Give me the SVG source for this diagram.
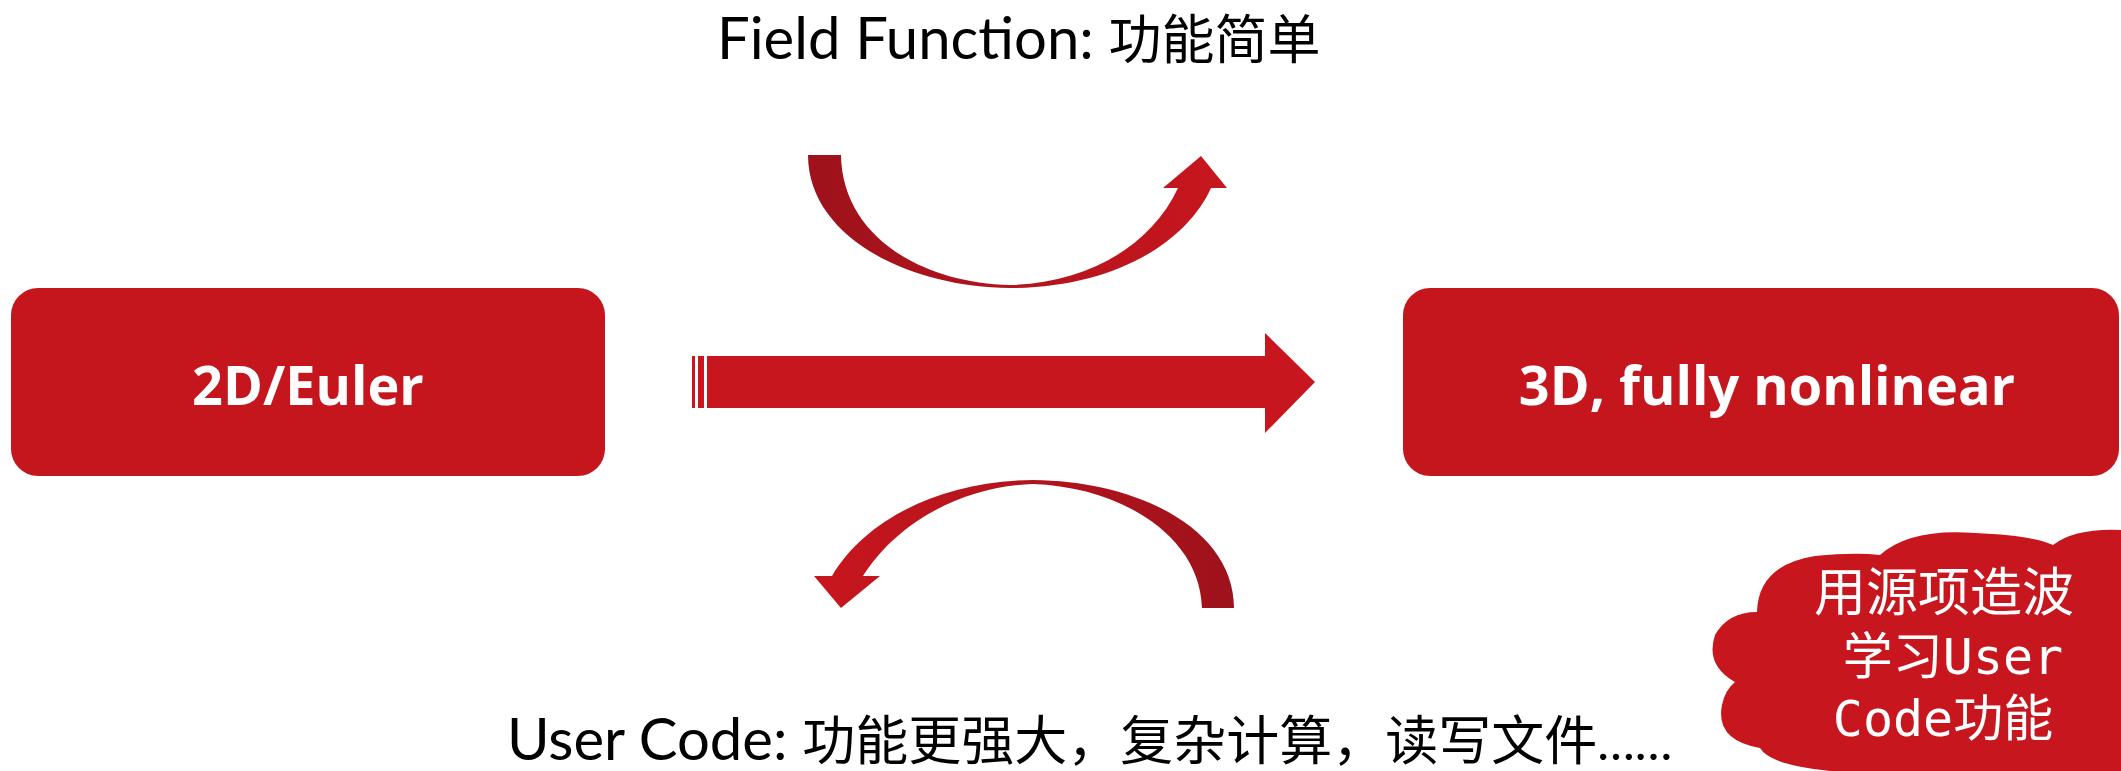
<svg xmlns="http://www.w3.org/2000/svg" width="2121" height="771" viewBox="0 0 2121 771">
<defs>
<style>
.box{fill:#c5161e}
.btxt{font-family:"Open Sans","Noto Sans",sans-serif;font-weight:bold;font-size:54px;fill:#fff;text-anchor:middle}
.lbl{font-family:Lato,"Noto Sans CJK SC",sans-serif;font-size:58px;fill:#000}
.cjk{font-family:"Noto Sans CJK SC",sans-serif;font-size:53px}
.ell{font-family:Lato,"Liberation Sans",sans-serif;font-size:50px}
.ctxt{font-family:"DejaVu Sans Mono","Noto Sans CJK SC",monospace;font-size:50px;fill:#fff;text-anchor:middle}
.red{fill:#c8161e}
</style>
<linearGradient id="gTop" x1="0" y1="0" x2="1" y2="0">
<stop offset="0" stop-color="#9e121b"/>
<stop offset="0.5" stop-color="#b3141d"/>
<stop offset="1" stop-color="#c8161e"/>
</linearGradient>
<linearGradient id="gBot" x1="0" y1="0" x2="1" y2="0">
<stop offset="0" stop-color="#c8161e"/>
<stop offset="0.5" stop-color="#b3141d"/>
<stop offset="1" stop-color="#9e121b"/>
</linearGradient>
</defs>
<rect width="2121" height="771" fill="#fff"/>
<g id="node-2d">
<rect class="box" x="11" y="288" width="594" height="188" rx="27"/>
<text class="btxt" x="308" y="405">2D/Euler</text>
</g>
<g id="node-3d">
<rect class="box" x="1403" y="288" width="716" height="188" rx="27"/>
<text class="btxt" x="1767" y="405">3D, fully nonlinear</text>
</g>
<g id="connectors">
<rect class="red" x="692" y="356" width="3" height="52"/>
<rect class="red" x="698" y="356" width="6" height="52"/>
<path class="red" d="M707,356 L1265,356 L1265,333 L1315,382 L1265,433 L1265,408 L707,408 Z"/>
<path fill="url(#gTop)" d="M808,155 C808,235 905,287 1010,288 C1110,288 1185,245 1211,188 L1227,188 L1201,156 L1163,188 L1178,188 C1150,248 1085,283 1010,285 C920,283 842,235 841,155 Z"/>
<path fill="url(#gBot)" d="M1234,608 C1234,530 1140,481 1033,480 C940,481 865,520 832,576 L814,576 L841,608 L880,576 L863,576 C895,525 960,486 1033,484 C1120,487 1200,535 1202,608 Z"/>
</g>
<g id="label-top">
<text class="lbl" x="717" y="59">Field Function: <tspan class="cjk">功能简单</tspan></text>
</g>
<g id="label-bottom">
<text class="lbl" x="507" y="760">User Code: <tspan class="cjk">功能更强大，复杂计算，读写文件</tspan><tspan class="ell">……</tspan></text>
</g>
<g id="cloud">
<path class="red" d="M1830,771 Q1770,765 1760,748 Q1715,740 1722,705 Q1725,690 1735,682 Q1705,665 1715,635 Q1728,612 1757,612 Q1758,565 1815,556 Q1855,552 1880,555 Q1910,528 1975,533 Q2030,535 2053,545 Q2075,528 2121,530 L2121,771 Z"/>
<text class="ctxt" x="1944" y="611" style="font-size:52px">用源项造波</text>
<text class="ctxt" x="1953" y="674">学习User</text>
<text class="ctxt" x="1943" y="736">Code功能</text>
</g>
</svg>
